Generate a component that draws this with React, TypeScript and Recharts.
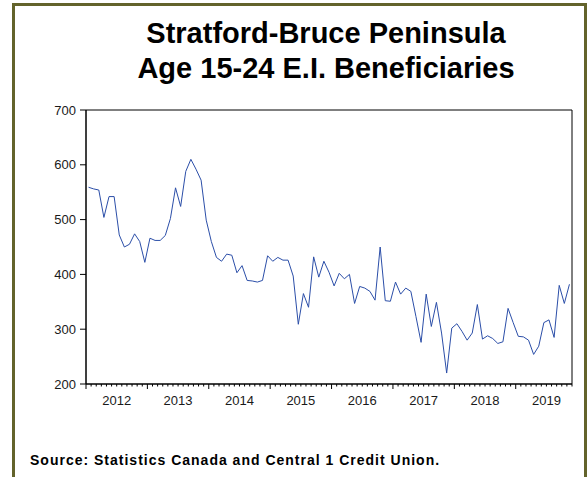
import React from 'react';
import { LineChart, Line, XAxis, YAxis, ReferenceArea } from 'recharts';

const years = ['2012', '2013', '2014', '2015', '2016', '2017', '2018', '2019'];
const v2012 = [559, 556, 554, 504, 542, 542, 472, 450, 455, 474, 460, 422];
const v2013 = [466, 462, 462, 471, 502, 558, 524, 588, 610, 592, 572, 499];
const v2014 = [460, 431, 424, 437, 435, 403, 416, 389, 388, 386, 389, 434];
const v2015 = [424, 431, 426, 426, 397, 309, 365, 340, 432, 395, 424, 404];
const v2016 = [379, 402, 392, 400, 347, 378, 375, 369, 353, 450, 352, 351];
const v2017 = [386, 364, 375, 369, 323, 276, 364, 305, 349, 293, 220, 302];
const v2018 = [310, 296, 280, 293, 345, 282, 288, 283, 274, 277, 338, 312];
const v2019 = [287, 286, 280, 254, 269, 312, 317, 285, 380, 347, 382];
const yTicks = [200, 300, 400, 500, 600, 700];

const allValues = [...v2012, ...v2013, ...v2014, ...v2015, ...v2016, ...v2017, ...v2018, ...v2019];
const nMonths = allValues.length;
const data = allValues.map((v, i) => ({ t: i + 0.5, v }));
const xTicks = Array.from({ length: nMonths + 1 }, (_, i) => i);
const labelAt: Record<number, string> = {};
years.forEach((y, i) => { labelAt[i * 12 + 6] = y; });

const FONT = '"Liberation Sans", Arial, sans-serif';

const XTick = (props: any) => {
  const { x, y, payload } = props;
  const v = payload.value as number;
  const major = v % 12 === 0;
  const label = labelAt[v];
  return (
    <g>
      <line x1={x} y1={y} x2={x} y2={y + (major ? 5 : 2.5)} stroke="#000" strokeWidth={1} />
      {label ? (
        <text x={x} y={y + 21} textAnchor="middle" fontSize={13} fontFamily={FONT} fill="#1a1a1a">
          {label}
        </text>
      ) : null}
    </g>
  );
};

export default function App() {
  return (
    <div style={{ position: 'absolute', left: 0, top: 0, width: 587, height: 477, overflow: 'hidden', background: '#fff' }}>
      <div
        style={{
          position: 'absolute', left: 12, top: 3, width: 575, height: 490, boxSizing: 'border-box',
          border: '3px solid #63632b', borderBottom: 'none',
        }}
      />
      <div style={{ position: 'absolute', left: 56, width: 540, top: 16, textAlign: 'center', fontFamily: FONT, fontWeight: 'bold', fontSize: 29, lineHeight: '35px', color: '#000' }}>
        <div>Stratford-Bruce Peninsula</div>
        <div>Age 15-24 E.I. Beneficiaries</div>
      </div>
      <div style={{ position: 'absolute', left: 30, top: 452, fontFamily: FONT, fontWeight: 'bold', fontSize: 14, lineHeight: '16px', letterSpacing: 1, color: '#000', whiteSpace: 'nowrap' }}>
        Source: Statistics Canada and Central 1 Credit Union.
      </div>
      <div style={{ position: 'absolute', left: 0, top: 0 }}>
        <LineChart width={587} height={477} data={data} margin={{ top: 110, right: 15, bottom: 63, left: 26 }}>
          <XAxis
            dataKey="t"
            type="number"
            domain={[0, nMonths]}
            ticks={xTicks}
            interval={0}
            tick={<XTick />}
            tickLine={false}
            tickSize={0}
            tickMargin={0}
            height={30}
            axisLine={{ stroke: '#000' }}
          />
          <YAxis
            type="number"
            domain={[200, 700]}
            ticks={yTicks}
            interval={0}
            width={60}
            tickSize={6}
            tickMargin={4}
            axisLine={{ stroke: '#000' }}
            tickLine={{ stroke: '#000' }}
            tick={{ fontSize: 13, fontFamily: FONT, fill: '#1a1a1a' }}
          />
          <ReferenceArea x1={0} x2={nMonths} y1={200} y2={700} stroke="#000" strokeWidth={1} fill="none" fillOpacity={0} />
          <Line type="linear" dataKey="v" stroke="#2b4ea8" strokeWidth={1} dot={false} isAnimationActive={false} />
        </LineChart>
      </div>
    </div>
  );
}
